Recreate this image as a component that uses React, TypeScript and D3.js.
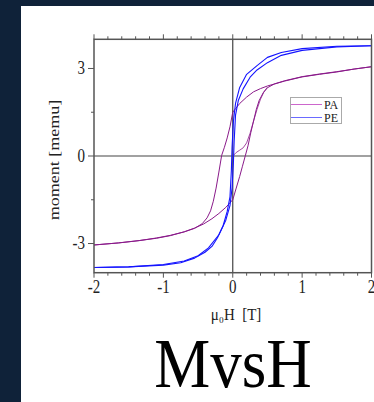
import * as d3 from 'd3';
import React, { useRef, useEffect } from 'react';

const W = 374;
const H = 402;
const serif = '"Liberation Serif", "Times New Roman", serif';

// plot frame in page pixels
const frame = { left: 94, right: 371.5, top: 39.3, bottom: 272.7 };

// tick values
const xMajor = [-2, -1, 0, 1, 2];
const xMinor = [-1.8, -1.6, -1.4, -1.2, -0.8, -0.6, -0.4, -0.2, 0.2, 0.4, 0.6, 0.8, 1.2, 1.4, 1.6, 1.8];
const yMajor = [-3, 0, 3];
const yMinor = [-1.5, 1.5];

// PA loop, descending branch (field from +2 to -2)
const paDescH = [2.0, 1.75, 1.5, 1.25, 1.0, 0.75, 0.5, 0.4, 0.3, 0.2, 0.1, 0.04, 0, -0.04, -0.08, -0.12, -0.16, -0.2, -0.24, -0.28, -0.32, -0.37, -0.44, -0.55, -0.7, -0.9, -1.1, -1.35, -1.65, -2.0];
const paDescM = [3.06, 2.98, 2.88, 2.8, 2.71, 2.57, 2.4, 2.31, 2.2, 2.02, 1.8, 1.62, 1.5, 1.0, 0.62, 0.3, 0.02, -0.55, -1.1, -1.55, -1.88, -2.12, -2.32, -2.48, -2.6, -2.72, -2.81, -2.9, -2.98, -3.05];
// PA loop, ascending branch (field from -2 to +2)
const paAscH = [-2.0, -1.65, -1.35, -1.1, -0.9, -0.7, -0.55, -0.42, -0.3, -0.2, -0.1, 0, 0.05, 0.1, 0.14, 0.18, 0.22, 0.26, 0.3, 0.34, 0.38, 0.44, 0.5, 0.6, 0.75, 1.0, 1.25, 1.5, 1.75, 2.0];
const paAscM = [-3.05, -2.98, -2.9, -2.82, -2.73, -2.6, -2.47, -2.33, -2.15, -1.97, -1.76, -1.5, -1.1, -0.7, -0.35, 0, 0.35, 0.8, 1.2, 1.6, 1.9, 2.17, 2.34, 2.47, 2.58, 2.72, 2.81, 2.89, 2.98, 3.06];
// PA initial curve from the origin
const paVirginH = [0, 0.05, 0.1, 0.15, 0.2, 0.25, 0.3, 0.35, 0.4, 0.45, 0.5];
const paVirginM = [0, 0.12, 0.2, 0.28, 0.45, 0.78, 1.2, 1.6, 1.95, 2.2, 2.36];

// PE loop
const peDescH = [2.0, 1.5, 1.0, 0.7, 0.5, 0.35, 0.2, 0.1, 0.04, 0.01, -0.01, -0.02, -0.04, -0.08, -0.14, -0.22, -0.3, -0.4, -0.55, -0.75, -1.0, -1.5, -2.0];
const peDescM = [3.78, 3.76, 3.68, 3.55, 3.38, 3.1, 2.8, 2.35, 1.8, 1.2, 0.3, -0.5, -1.4, -1.9, -2.4, -2.8, -3.1, -3.3, -3.5, -3.66, -3.74, -3.8, -3.82];
const peAscH = [-2.0, -1.5, -1.0, -0.7, -0.5, -0.35, -0.2, -0.1, -0.04, -0.01, 0.01, 0.02, 0.04, 0.08, 0.15, 0.25, 0.35, 0.5, 0.7, 1.0, 1.5, 2.0];
const peAscM = [-3.82, -3.8, -3.72, -3.6, -3.42, -3.15, -2.7, -2.2, -1.7, -1.1, -0.2, 0.5, 1.4, 1.9, 2.3, 2.7, 2.95, 3.2, 3.45, 3.62, 3.74, 3.78];

const seriesNames = ['PA', 'PE'];
const seriesColors = ['#8a1a8a', '#1414ff'];
const legendColors = ['#cc66cc', '#6a6aff'];

function Chart() {
  const ref = useRef<SVGSVGElement>(null);

  useEffect(() => {
    const svg = d3.select(ref.current);
    svg.selectAll('*').remove();

    const x = d3.scaleLinear().domain([-2, 2]).range([frame.left, frame.right]);
    const y = d3.scaleLinear().domain([-4, 4]).range([frame.bottom, frame.top]);

    // page background + white panel
    svg.append('rect').attr('width', W).attr('height', H).attr('fill', '#0f2239');
    svg.append('rect').attr('x', 21).attr('y', 6).attr('width', W - 21).attr('height', H - 6).attr('fill', '#fff');

    const line = d3
      .line<[number, number]>()
      .x((d) => x(d[0]))
      .y((d) => y(d[1]));
    const zip = (hs: number[], ms: number[]) => hs.map((h, i) => [h, ms[i]] as [number, number]);

    const plot = svg.append('g');
    // zero lines
    plot.append('line').attr('x1', x(0)).attr('x2', x(0)).attr('y1', frame.top).attr('y2', frame.bottom).attr('stroke', '#444').attr('stroke-width', 1.2);
    plot.append('line').attr('x1', frame.left).attr('x2', frame.right).attr('y1', y(0)).attr('y2', y(0)).attr('stroke', '#444').attr('stroke-width', 1.2);

    // curves
    const curves = [
      { d: zip(paDescH, paDescM), c: seriesColors[0], w: 1 },
      { d: zip(paAscH, paAscM), c: seriesColors[0], w: 1 },
      { d: zip(paVirginH, paVirginM), c: seriesColors[0], w: 0.8 },
      { d: zip(peDescH, peDescM), c: seriesColors[1], w: 1.1 },
      { d: zip(peAscH, peAscM), c: seriesColors[1], w: 1.1 },
    ];
    plot
      .selectAll('path.curve')
      .data(curves)
      .join('path')
      .attr('class', 'curve')
      .attr('d', (d) => line(d.d))
      .attr('fill', 'none')
      .attr('stroke', (d) => d.c)
      .attr('stroke-width', (d) => d.w)
      .attr('stroke-linejoin', 'round');

    // frame
    svg
      .append('rect')
      .attr('x', frame.left)
      .attr('y', frame.top)
      .attr('width', frame.right - frame.left)
      .attr('height', frame.bottom - frame.top)
      .attr('fill', 'none')
      .attr('stroke', '#555')
      .attr('stroke-width', 1.5);

    // x ticks top & bottom, y ticks left (all outward)
    const ticks = svg.append('g').attr('stroke', '#555').attr('stroke-width', 1);
    xMajor.concat(xMinor).forEach((v) => {
      const len = xMajor.includes(v) ? 5 : 3;
      ticks.append('line').attr('x1', x(v)).attr('x2', x(v)).attr('y1', frame.top).attr('y2', frame.top - len);
      ticks.append('line').attr('x1', x(v)).attr('x2', x(v)).attr('y1', frame.bottom).attr('y2', frame.bottom + len);
    });
    yMajor.concat(yMinor).forEach((v) => {
      const len = yMajor.includes(v) ? 6 : 3;
      ticks.append('line').attr('x1', frame.left).attr('x2', frame.left - len).attr('y1', y(v)).attr('y2', y(v));
    });

    // tick labels (original picture is stretched vertically)
    const sy = 1.2;
    svg
      .selectAll('text.xt')
      .data(xMajor)
      .join('text')
      .attr('class', 'xt')
      .attr('transform', (d) => `translate(${x(d)},293) scale(1,${sy})`)
      .attr('text-anchor', 'middle')
      .attr('font-family', serif)
      .attr('font-size', 15)
      .attr('fill', '#222')
      .text((d) => String(d));
    svg
      .selectAll('text.yt')
      .data(yMajor)
      .join('text')
      .attr('class', 'yt')
      .attr('transform', (d) => `translate(85,${y(d) + 5.5}) scale(1,${sy})`)
      .attr('text-anchor', 'end')
      .attr('font-family', serif)
      .attr('font-size', 15)
      .attr('fill', '#222')
      .text((d) => String(d));

    // axis titles
    svg
      .append('text')
      .attr('transform', `translate(59,160) scale(1,${sy}) rotate(-90)`)
      .attr('text-anchor', 'middle')
      .attr('font-family', serif)
      .attr('font-size', 15)
      .attr('fill', '#222')
      .text('moment [memu]');
    svg
      .append('text')
      .attr('transform', `translate(236,319.5) scale(1,1.1)`)
      .attr('text-anchor', 'middle')
      .attr('font-family', serif)
      .attr('font-size', 15)
      .attr('fill', '#222')
      .attr('xml:space', 'preserve')
      .text('μ₀H  [T]');

    // legend
    const lg = svg.append('g');
    lg.append('rect').attr('x', 290.5).attr('y', 97.5).attr('width', 51).attr('height', 26).attr('fill', '#fff').attr('stroke', '#aaa').attr('stroke-width', 1);
    seriesNames.forEach((name, i) => {
      const ly = 104.5 + i * 13;
      lg.append('line').attr('x1', 291).attr('x2', 322).attr('y1', ly).attr('y2', ly).attr('stroke', legendColors[i]).attr('stroke-width', 1);
      lg.append('text')
        .attr('x', 324)
        .attr('y', ly + 4)
        .attr('font-family', serif)
        .attr('font-size', 12)
        .attr('fill', '#222')
        .text(name);
    });

    // title
    svg
      .append('text')
      .attr('transform', `translate(233,387) scale(1,1.12)`)
      .attr('text-anchor', 'middle')
      .attr('font-family', serif)
      .attr('font-size', 63)
      .attr('fill', '#000')
      .text('MvsH');
  }, []);

  return <svg ref={ref} width={W} height={H} style={{ position: 'fixed', left: 0, top: 0 }} />;
}

export default function App() {
  return <Chart />;
}
